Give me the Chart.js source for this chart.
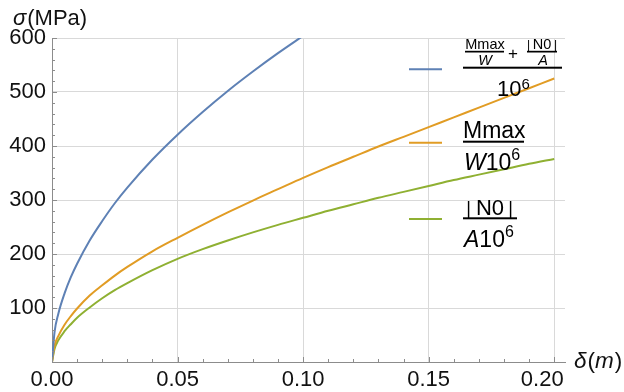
<!DOCTYPE html>
<html>
<head>
<meta charset="utf-8">
<script src="https://cdn.jsdelivr.net/npm/chart.js@4.4.1/dist/chart.umd.min.js"></script>
<style>
  html, body { margin: 0; padding: 0; background: #fff; }
  #wrap { width: 624px; height: 392px; position: relative; }
</style>
</head>
<body>
<div id="wrap"><canvas id="stressChart"></canvas></div>
<script>
// data: delta (m) vs sigma (MPa)
const deltaValues = [0, 0.001, 0.0025, 0.005, 0.0075, 0.01, 0.015, 0.02, 0.025, 0.03, 0.04,
  0.05, 0.06, 0.07, 0.08, 0.09, 0.10, 0.11, 0.12, 0.13, 0.14, 0.15, 0.16, 0.17, 0.18, 0.19, 0.20];
const sigmaTotal = [0, 55, 89, 127, 157, 182, 225, 261, 294, 323, 375,
  421, 463, 502, 538, 572, 604];
const sigmaBending = [0, 30, 48, 69, 85, 99, 123, 142, 160, 176, 205,
  230, 254, 277, 299, 320, 341, 361, 380, 399, 417, 435, 453, 471, 489, 507, 525];
const sigmaAxial = [0, 24, 40, 57, 70, 82, 101, 118, 133, 146, 170,
  191, 209, 225, 240, 254, 267, 280, 292, 304, 315, 326, 337, 347, 357, 367, 376];

const xTicks = [0, 0.05, 0.10, 0.15, 0.20];
const yTicks = [100, 200, 300, 400, 500, 600];
const xMinorTicks = [0.01, 0.02, 0.03, 0.04, 0.06, 0.07, 0.08, 0.09, 0.11, 0.12, 0.13, 0.14, 0.16, 0.17, 0.18, 0.19];
const yMinorTicks = [20, 40, 60, 80, 120, 140, 160, 180, 220, 240, 260, 280, 320, 340, 360, 380,
  420, 440, 460, 480, 520, 540, 560, 580];

const COLORS = ['#5E81B5', '#E19C24', '#8FB032'];
const FONT = '"Liberation Sans", Arial, sans-serif';
const AXIS_COLOR = '#8c8c8c';
const GRID_COLOR = '#d9d9d9';
const TEXT_COLOR = '#111';

const toPoints = ys => ys.map((y, i) => ({ x: deltaValues[i], y }));

function txt(ctx, s, x, y, size, opts = {}) {
  ctx.font = `${opts.italic ? 'italic ' : ''}${size}px ${FONT}`;
  ctx.textAlign = opts.align || 'left';
  ctx.textBaseline = opts.baseline || 'alphabetic';
  ctx.fillText(s, x, y);
  return ctx.measureText(s).width;
}

function drawLegend(ctx) {
  const swatches = [69.3, 142.7, 219];
  ctx.lineWidth = 2;
  swatches.forEach((y, i) => {
    ctx.strokeStyle = COLORS[i];
    ctx.beginPath(); ctx.moveTo(409, y); ctx.lineTo(442, y); ctx.stroke();
  });
  ctx.fillStyle = '#000';

  // (Mmax/W + |N0|/A) / 10^6
  txt(ctx, 'Mmax', 485, 48.5, 14.5, { align: 'center' });
  ctx.fillRect(465, 50.8, 39, 1.7);
  txt(ctx, 'W', 485, 65, 14.5, { italic: true, align: 'center' });
  txt(ctx, '+', 513, 58.5, 17, { align: 'center' });
  txt(ctx, '|', 528.5, 49.2, 12, { align: 'center' });
  txt(ctx, 'N0', 542, 49, 14.5, { align: 'center' });
  txt(ctx, '|', 555.5, 49.2, 12, { align: 'center' });
  ctx.fillRect(527, 50.8, 30, 1.7);
  txt(ctx, 'A', 543, 65, 14.5, { italic: true, align: 'center' });
  ctx.fillRect(463, 66.7, 99, 2);
  let w = txt(ctx, '10', 497, 96, 22);
  txt(ctx, '6', 497 + w, 89, 15);

  // Mmax / (W 10^6)
  txt(ctx, 'Mmax', 463, 138.3, 23);
  ctx.fillRect(463, 140.7, 61, 2);
  w = txt(ctx, 'W', 464, 170, 23, { italic: true });
  const w2 = txt(ctx, '10', 464 + w, 170, 23);
  txt(ctx, '6', 464 + w + w2, 160, 16);

  // |N0| / (A 10^6)
  txt(ctx, '|', 468.5, 213.5, 18, { align: 'center' });
  txt(ctx, 'N0', 490, 215, 22, { align: 'center' });
  txt(ctx, '|', 510.5, 213.5, 18, { align: 'center' });
  ctx.fillRect(463, 217.3, 54, 2);
  w = txt(ctx, 'A', 464, 246.7, 23, { italic: true });
  const w3 = txt(ctx, '10', 464 + w, 246.7, 23);
  txt(ctx, '6', 464 + w + w3, 236.5, 16);
}

const decorPlugin = {
  id: 'decor',
  afterDraw(chart) {
    const { ctx, chartArea, scales: { x, y } } = chart;
    ctx.save();
    // inward minor/major ticks, like the original axes
    ctx.strokeStyle = AXIS_COLOR;
    ctx.lineWidth = 1;
    ctx.beginPath();
    xMinorTicks.forEach(v => {
      const px = Math.round(x.getPixelForValue(v)) + 0.5;
      ctx.moveTo(px, chartArea.bottom); ctx.lineTo(px, chartArea.bottom - 3);
    });
    xTicks.forEach(v => {
      const px = Math.round(x.getPixelForValue(v)) + 0.5;
      ctx.moveTo(px, chartArea.bottom); ctx.lineTo(px, chartArea.bottom - 5);
    });
    yMinorTicks.forEach(v => {
      const py = Math.round(y.getPixelForValue(v)) + 0.5;
      ctx.moveTo(chartArea.left, py); ctx.lineTo(chartArea.left + 3, py);
    });
    yTicks.forEach(v => {
      const py = Math.round(y.getPixelForValue(v)) + 0.5;
      ctx.moveTo(chartArea.left, py); ctx.lineTo(chartArea.left + 5, py);
    });
    ctx.stroke();

    // x tick labels; the last one sits a bit left, clear of the axis title
    ctx.fillStyle = TEXT_COLOR;
    xTicks.forEach((v, i) => {
      const shift = i === xTicks.length - 1 ? -12 : 0;
      txt(ctx, v.toFixed(2), x.getPixelForValue(v) + shift, chartArea.bottom + 18, 22,
        { align: 'center', baseline: 'middle' });
    });

    // axis titles
    let w = txt(ctx, 'σ', 13, 25, 22, { italic: true });
    txt(ctx, '(MPa)', 13 + w + 1, 25, 22);
    let xx = 574;
    xx += txt(ctx, 'δ', xx, 368, 22.5, { italic: true }) + 1;
    xx += txt(ctx, '(', xx, 368, 22.5);
    xx += txt(ctx, 'm', xx, 368, 22.5, { italic: true }) + 1;
    txt(ctx, ')', xx, 368, 22.5);

    drawLegend(ctx);
    ctx.restore();
  }
};

const chartCtx = document.getElementById('stressChart').getContext('2d');
new Chart(chartCtx, {
  type: 'line',
  data: {
    datasets: [
      { label: 'total', data: toPoints(sigmaTotal), borderColor: COLORS[0] },
      { label: 'bending', data: toPoints(sigmaBending), borderColor: COLORS[1] },
      { label: 'axial', data: toPoints(sigmaAxial), borderColor: COLORS[2] }
    ]
  },
  options: {
    responsive: true,
    maintainAspectRatio: false,
    animation: false,
    events: [],
    parsing: false,
    layout: { padding: { top: 38, right: 59, left: 0, bottom: 0 } },
    elements: {
      line: { borderWidth: 2, cubicInterpolationMode: 'monotone', fill: false },
      point: { radius: 0 }
    },
    plugins: { legend: { display: false }, tooltip: { enabled: false } },
    scales: {
      x: {
        type: 'linear', min: 0, max: 0.2043,
        afterBuildTicks: s => { s.ticks = xTicks.map(v => ({ value: v })); },
        afterFit: s => { s.height = 30; },
        grid: { color: GRID_COLOR, lineWidth: 1, drawTicks: false },
        border: { display: true, color: AXIS_COLOR, width: 1 },
        ticks: { display: false }
      },
      y: {
        type: 'linear', min: 0, max: 600,
        afterBuildTicks: s => { s.ticks = yTicks.map(v => ({ value: v })); },
        afterFit: s => { s.width = 52; },
        grid: { color: GRID_COLOR, lineWidth: 1, drawTicks: false },
        border: { display: true, color: AXIS_COLOR, width: 1 },
        ticks: { color: TEXT_COLOR, padding: 6, autoSkip: false,
          font: { family: FONT, size: 22 }, callback: v => String(v) }
      }
    }
  },
  plugins: [decorPlugin]
});
</script>
</body>
</html>
